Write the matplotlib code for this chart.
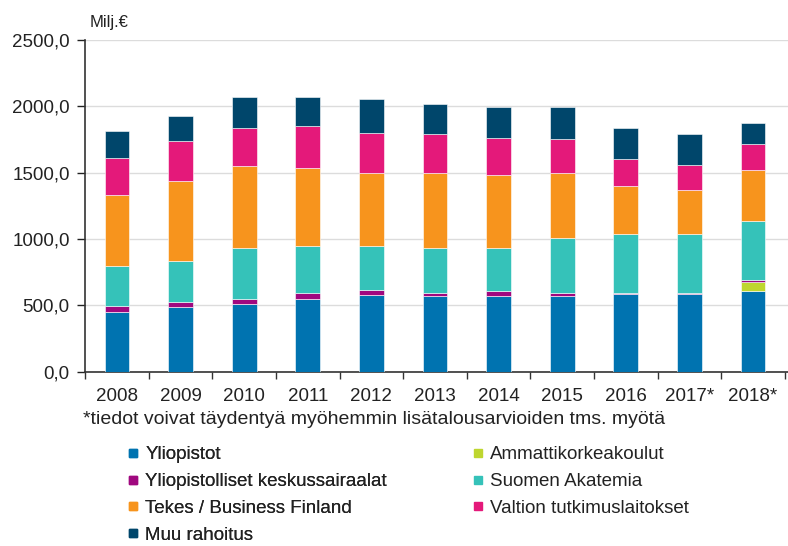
import matplotlib.pyplot as plt
import numpy as np
from matplotlib.lines import Line2D
from matplotlib.ticker import FuncFormatter

plt.rcParams['font.family'] = ['Liberation Sans', 'DejaVu Sans']

years = ['2008', '2009', '2010', '2011', '2012', '2013', '2014', '2015', '2016', '2017*', '2018*']

# Milj. euroa, luettu kuvasta
yliopistot = [451, 486, 511, 546, 581, 571, 571, 571, 586, 586, 606]
amk = [0, 0, 0, 0, 0, 0, 0, 0, 0, 0, 70]
keskussairaalat = [47, 37, 35, 50, 37, 25, 35, 25, 10, 10, 15]
akatemia = [301, 313, 388, 350, 328, 338, 328, 411, 443, 443, 448]
tekes = [531, 604, 613, 589, 551, 563, 551, 490, 361, 328, 383]
valtion = [278, 300, 288, 315, 303, 291, 278, 253, 205, 190, 193]
muu = [205, 183, 233, 218, 253, 228, 233, 246, 230, 231, 158]

series = [
    ('Yliopistot', yliopistot, '#0073B0'),
    ('Ammattikorkeakoulut', amk, '#BED62F'),
    ('Yliopistolliset keskussairaalat', keskussairaalat, '#A0087F'),
    ('Suomen Akatemia', akatemia, '#35C2B9'),
    ('Tekes / Business Finland', tekes, '#F7941D'),
    ('Valtion tutkimuslaitokset', valtion, '#E4197A'),
    ('Muu rahoitus', muu, '#00466B'),
]

fig = plt.figure(figsize=(7.88, 5.46), dpi=100)
ax = fig.add_axes([0.108, 0.319, 0.892, 0.608])

x = np.arange(len(years))
bottom = np.zeros(len(years))
handles = {}
for name, vals, col in series:
    vals = np.array(vals, dtype=float)
    ax.bar(x, vals, 0.39, bottom=bottom, color=col, edgecolor='white', linewidth=0.4, zorder=3)
    bottom += vals
    handles[name] = Line2D([], [], marker='s', ls='', color=col, markersize=6)

ax.set_ylim(0, 2500)
ax.set_xlim(-0.5, len(years) - 0.45)
ax.set_yticks(np.arange(0, 2501, 500))
ax.yaxis.set_major_formatter(FuncFormatter(lambda v, p: f'{v:.1f}'.replace('.', ',')))
ax.set_xticks(x)
ax.set_xticklabels(years)
ax.set_xticks(np.arange(-0.5, len(years) - 0.4, 1), minor=True)
ax.tick_params(axis='x', which='major', length=0, pad=12, labelsize=13.5, colors='#222222')
ax.tick_params(axis='x', which='minor', length=5, width=1, color='#333333')
ax.tick_params(axis='y', length=6, width=1, labelsize=13.5, pad=5, colors='#222222')
ax.grid(axis='y', color='#dcdcdc', linewidth=1, zorder=0)
for s in ['top', 'right']:
    ax.spines[s].set_visible(False)
for s in ['left', 'bottom']:
    ax.spines[s].set_color('#333333')
    ax.spines[s].set_linewidth(1.2)

fig.text(0.114, 0.958, 'Milj.€', fontsize=12, color='#222222', va='center')
fig.text(0.105, 0.231, '*tiedot voivat täydentyä myöhemmin lisätalousarvioiden tms. myötä',
         fontsize=14, color='#222222', va='center')

col1 = ['Yliopistot', 'Yliopistolliset keskussairaalat', 'Tekes / Business Finland', 'Muu rahoitus']
col2 = ['Ammattikorkeakoulut', 'Suomen Akatemia', 'Valtion tutkimuslaitokset']
kw = dict(loc='upper left', frameon=False, fontsize=13.5, handlelength=0.5, handletextpad=0.4,
          labelspacing=0.52, borderaxespad=0, borderpad=0, labelcolor='#222222')
leg1 = fig.legend([handles[n] for n in col1], col1, bbox_to_anchor=(0.163, 0.183), **kw)
fig.legend([handles[n] for n in col2], col2, bbox_to_anchor=(0.601, 0.183), **kw)
fig.add_artist(leg1)

fig.savefig('out.png', dpi=100)
